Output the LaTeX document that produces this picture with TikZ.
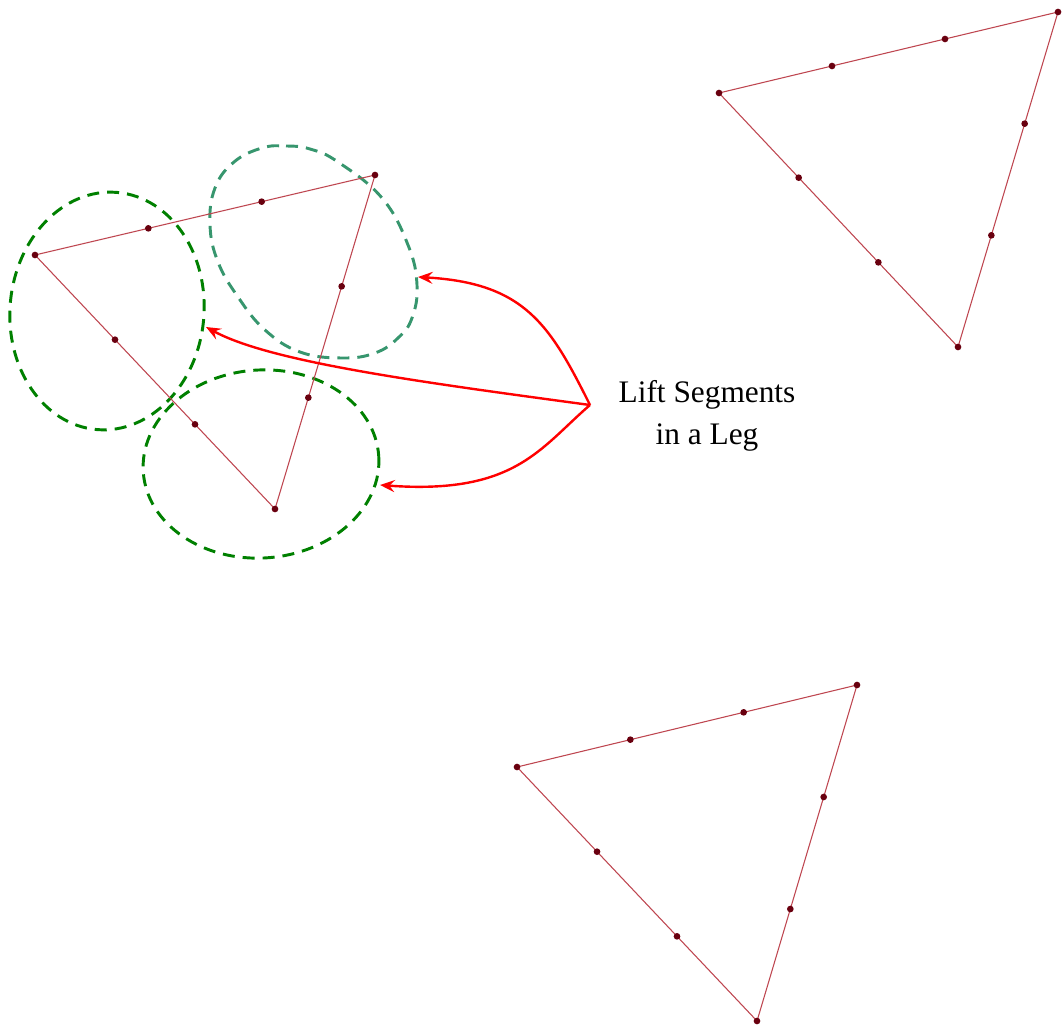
\documentclass[tikz,border=0pt]{standalone}
\usepackage{fontspec}
\setmainfont{Liberation Serif}
\usetikzlibrary{arrows.meta,calc}
\definecolor{edgecol}{RGB}{190,70,80}
\definecolor{dotcol}{RGB}{105,0,15}
\definecolor{dgreen}{RGB}{0,128,0}
\definecolor{tgreen}{RGB}{55,150,110}
\tikzset{
  edge/.style={draw=edgecol, line width=0.8pt},
  vdot/.style={circle, fill=dotcol, inner sep=0pt, minimum size=5pt},
  ring/.style={draw=dgreen, line width=2.2pt, dash pattern=on 9pt off 6pt},
  callout/.style={draw=red, line width=1.8pt, -{Stealth[length=11pt,width=9pt,inset=4pt]}},
  lbl/.style={align=center, font=\fontsize{23.5}{31}\selectfont}
}
\begin{document}
\begin{tikzpicture}[x=0.75pt,y=-0.75pt]
\useasboundingbox (0,0) rectangle (1062,1030);
% rings
\draw[ring, rotate around={-5:(107,311)}] (107,311) ellipse [x radius=97, y radius=119];
\draw[ring, draw=tgreen] plot[smooth cycle, tension=0.7] coordinates {(262,148) (286,146) (310,149) (338,162) (382,198) (408,245) (417,285) (412,318) (398,338) (375,353) (342,358) (300,352) (265,330) (238,297) (218,262) (210,225) (215,188) (234,162)};
\draw[ring, rotate around={4:(261,464)}] (261,464) ellipse [x radius=118, y radius=94];
% triangles
\foreach \n/\ax/\ay/\bx/\by/\cx/\cy in {t1/35/255/375/175/275/509, t2/719/93/1058/12/958/347, t3/517/767/857/685/757/1021}{
  \coordinate (\n a) at (\ax,\ay);
  \coordinate (\n b) at (\bx,\by);
  \coordinate (\n c) at (\cx,\cy);
  \draw[edge] (\n a) -- (\n b) -- (\n c) -- cycle;
  \foreach \p in {a,b,c} \node[vdot] (\n\p d) at (\n \p) {};
  \node[vdot] (\n ab1) at ($(\n a)!1/3!(\n b)$) {};
  \node[vdot] (\n ab2) at ($(\n a)!2/3!(\n b)$) {};
  \node[vdot] (\n bc1) at ($(\n b)!1/3!(\n c)$) {};
  \node[vdot] (\n bc2) at ($(\n b)!2/3!(\n c)$) {};
  \node[vdot] (\n ca1) at ($(\n c)!1/3!(\n a)$) {};
  \node[vdot] (\n ca2) at ($(\n c)!2/3!(\n a)$) {};
}
% label
\node[lbl] (lab) at (707,416) {Lift Segments\\in a Leg};
\coordinate (src) at (590,405);
\coordinate (e1) at (418,277);
\coordinate (e2) at (206,327);
\coordinate (e3) at (380,485);
\draw[callout] (src) .. controls (550,325) and (525,283) .. (e1);
\draw[callout] (src) .. controls (420,382) and (270,362) .. (e2);
\draw[callout] (src) .. controls (540,448) and (515,495) .. (e3);
\end{tikzpicture}
\end{document}
